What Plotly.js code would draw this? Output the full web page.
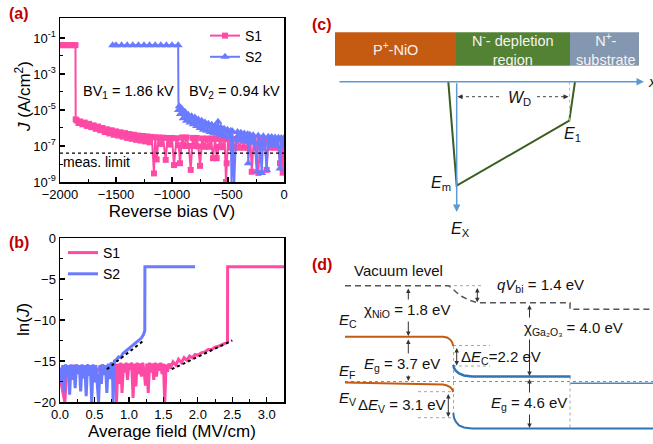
<!DOCTYPE html>
<html><head><meta charset="utf-8">
<script src="https://cdn.plot.ly/plotly-3.0.1.min.js"></script>
<style>html,body{margin:0;padding:0;background:#fff}#chart{width:653px;height:444px}</style>
</head><body><div id="chart"></div>
<script>
// ---------- Panel (a): J vs reverse bias ----------
const s1V = [-2000,-1975,-1950,-1925,-1900,-1880,-1862,-1860,-1850,-1835,
  -1820,-1800,-1780,-1760,-1740,-1720,-1700,-1680,-1660,-1640,
  -1620,-1600,-1580,-1560,-1540,-1520,-1500,-1480,-1460,-1440,
  -1420,-1400,-1380,-1360,-1340,-1320,-1300,-1280,-1260,-1240,
  -1220,-1200,-1180,-1161,-1150,-1137,-1120,-1100,-1080,-1056,
  -1040,-1020,-1000,-982,-960,-940,-929,-910,-890,-870,
  -850,-833,-815,-800,-780,-765,-750,-730,-710,-690,
  -670,-650,-634,-615,-601,-585,-570,-550,-530,-518,
  -512,-500,-480,-460,-440,-420,-400,-380,-360,-340,
  -320,-300,-288,-270,-250,-229,-210,-190,-170,-155,
  -140,-120,-100,-80,-60,-36,-25,-12,0];
const s1J = [0.04,0.04,0.04,0.04,0.04,0.04,0.04,3.0e-6,2.6e-6,1.9e-6,
  2.3e-6,1.6e-6,2.0e-6,1.3e-6,1.7e-6,1.1e-6,1.4e-6,9.0e-7,1.2e-6,7.5e-7,
  1.0e-6,6.0e-7,8.5e-7,5.0e-7,7.5e-7,4.2e-7,6.5e-7,3.8e-7,5.8e-7,3.3e-7,
  5.2e-7,2.8e-7,4.6e-7,2.5e-7,4.2e-7,2.2e-7,3.8e-7,2.0e-7,3.6e-7,1.8e-7,
  3.4e-7,1.6e-7,3.2e-7,3.0e-9,3.0e-7,1.8e-8,3.0e-7,1.3e-7,2.9e-7,1.7e-8,
  2.8e-7,1.2e-7,2.8e-7,8.7e-9,2.7e-7,1.1e-7,1.1e-8,3.0e-7,1.0e-7,3.0e-7,
  1.0e-7,4.7e-9,2.8e-7,1.0e-7,2.8e-7,9.5e-8,7.9e-9,2.6e-7,9.0e-8,2.6e-7,
  9.0e-8,2.5e-7,2.1e-8,2.5e-7,2.1e-8,9.0e-8,2.5e-7,8.5e-8,2.5e-7,1.0e-9,
  1.1e-8,2.4e-7,8.0e-8,2.4e-7,8.0e-8,2.4e-7,8.0e-8,2.4e-7,8.0e-8,2.4e-7,
  8.0e-8,2.4e-7,3.7e-9,2.4e-7,8.0e-8,3.2e-9,2.4e-7,8.0e-8,2.4e-7,4.7e-9,
  2.4e-7,8.0e-8,2.4e-7,8.0e-8,2.4e-7,1.1e-8,2.4e-7,3.3e-9,2.4e-7];
const s2V = [-1530,-1500,-1450,-1400,-1350,-1300,-1250,-1200,-1150,-1100,
  -1050,-1000,-945,-942,-935,-925,-915,-900,-885,-870,
  -855,-840,-825,-810,-795,-780,-765,-750,-735,-720,
  -705,-690,-675,-660,-645,-630,-615,-600,-589,-578,
  -565,-550,-535,-520,-505,-490,-475,-468,-460,-445,
  -430,-415,-400,-385,-370,-355,-340,-325,-319,-305,
  -290,-275,-260,-244,-230,-215,-199,-185,-170,-155,
  -140,-125,-110,-95,-80,-65,-50,-36,-25,-12,0];
const s2J = [0.04,0.04,0.04,0.04,0.04,0.04,0.04,0.04,0.04,0.04,
  0.04,0.04,0.04,1.0e-5,1.6e-5,6e-6,1.2e-5,3.5e-6,8e-6,2.5e-6,
  5.5e-6,2.0e-6,4.5e-6,1.6e-6,3.8e-6,1.3e-6,3.0e-6,1.0e-6,2.5e-6,8e-7,
  2.0e-6,7e-7,1.7e-6,6e-7,1.5e-6,5e-7,1.3e-6,5e-7,2.2e-6,4.5e-7,
  1.1e-6,4e-7,9e-7,3.5e-7,8e-7,3e-7,7e-7,3e-10,6.5e-7,6e-10,
  2.5e-7,6e-7,2.2e-7,5.5e-7,2e-7,5e-7,1.8e-7,4.5e-7,1.1e-8,4.2e-7,
  1.6e-7,4e-7,1.5e-7,3.7e-9,3.7e-7,1.4e-7,3.2e-9,3.5e-7,1.3e-7,4.7e-9,
  3.3e-7,1.2e-7,3.2e-7,1.1e-7,3.0e-7,1.0e-7,2.9e-7,5.6e-9,2.8e-7,9e-8,2.8e-7];
const limitV = [-2000, 0];
const limitJ = [4e-8, 4e-8];
const aTickVals = [1e-9,1e-7,1e-5,1e-3,1e-1];
const aTickText = ['10<sup>-9</sup>','10<sup>-7</sup>','10<sup>-5</sup>','10<sup>-3</sup>','10<sup>-1</sup>'];

// ---------- Panel (b): ln(J) vs average field ----------
const b1F = [0,0.04,0.07,0.10,0.2,0.3,0.4,0.5,0.6,0.7,
  0.78,0.80,0.82,0.84,0.86,0.88,0.90,0.92,0.94,0.96,
  0.98,1.00,1.02,1.04,1.06,1.08,1.10,1.12,1.14,1.16,
  1.18,1.20,1.22,1.24,1.26,1.28,1.30,1.32,1.34,1.36,
  1.38,1.40,1.42,1.44,1.46,1.48,1.50,1.52,1.54,1.56,
  1.58,1.60,1.64,1.68,1.72,1.76,1.80,1.84,1.88,1.92,
  1.96,2.00,2.05,2.10,2.15,2.20,2.25,2.30,2.35,2.40,
  2.43,2.432,2.8,3.25];
const b1L = [-17.0,-18.5,-20,-16.0,-15.6,-16.5,-15.6,-16.5,-15.6,-16.2,
  -15.6,-15.4,-20,-15.3,-17.8,-15.2,-18.9,-15.3,-16.4,-15.2,
  -17.3,-15.3,-16.1,-15.2,-19.5,-15.3,-18.1,-15.2,-16.6,-15.3,
  -16.9,-15.2,-16.2,-18.0,-15.3,-18.9,-15.2,-16.4,-15.3,-17.3,
  -15.2,-16.9,-15.3,-16.2,-15.2,-16.6,-15.3,-20,-15.4,-16.3,
  -15.3,-15.9,-15.1,-15.5,-14.8,-15.2,-14.6,-14.9,-14.4,-14.6,
  -14.2,-14.3,-14.0,-13.9,-13.6,-13.6,-13.3,-13.2,-13.0,-12.8,
  -12.7,-3.5,-3.5,-3.5];
const b2F = [0,0.02,0.04,0.06,0.08,0.10,0.12,0.14,0.16,0.18,
  0.20,0.22,0.24,0.26,0.28,0.30,0.32,0.34,0.36,0.38,
  0.40,0.42,0.44,0.46,0.48,0.50,0.52,0.54,0.56,0.58,
  0.60,0.62,0.64,0.66,0.68,0.70,0.72,0.74,0.76,0.77,
  0.79,0.82,0.85,0.88,0.91,0.94,0.97,1.00,1.03,1.06,
  1.09,1.12,1.15,1.18,1.21,1.23,1.232,1.5,1.96];
const b2L = [-15.8,-17.6,-15.5,-18.8,-15.4,-16.9,-15.5,-19.1,-15.4,-17.3,
  -15.5,-18.3,-15.4,-16.6,-15.5,-18.7,-15.4,-17.1,-15.5,-19.3,
  -15.4,-16.8,-15.5,-20,-15.4,-17.6,-15.5,-18.4,-20,-15.5,
  -17.8,-15.4,-16.7,-15.5,-18.9,-15.3,-17.2,-15.2,-15.4,-20,
  -15.0,-14.8,-14.5,-14.6,-14.1,-13.9,-13.7,-13.4,-13.3,-13.0,
  -12.9,-12.6,-12.4,-12.2,-11.8,-11.3,-3.5,-3.5,-3.5];
const fit1F = [1.62, 2.50], fit1L = [-16.0, -12.5];
const fit2F = [0.68, 1.20], fit2L = [-16.0, -12.6];

// ---------- Panel (c): field schematic (diagram units) ----------
const cBoxX0 = [335, 456, 570], cBoxX1 = [456, 570, 639];
const cBoxColor = ['#c55a11', '#548235', '#8497b0'];
const cBoxLabel = ['P<sup>+</sup>-NiO', 'N<sup>-</sup>- depletion<br>region', 'N<sup>+</sup>-<br>substrate'];
const cBoxLabelX = [395.5, 513, 606];
const fieldX = [448.3, 456.7, 569.3, 575];
const fieldY = [81.7, 185.7, 120.7, 81.7];
const wdX = [460, 500, null, 537, 566];
const wdY = [96.7, 96.7, null, 96.7, 96.7];

// ---------- Panel (d): band diagram (diagram units) ----------
const vacX = [345, 448.3, 452, 456, 462, 470, 478, 570, 570, 653];
const vacY = [285.7, 285.7, 288, 292, 296.5, 300.5, 302.7, 302.7, 309.3, 309.3];
const ecNiOX = [345, 443, 447, 450, 452, 453.3];
const ecNiOY = [336.7, 336.7, 337.5, 339.5, 342, 346];
const evNiOX = [345, 443, 447, 450, 452, 453.3];
const evNiOY = [382.5, 384.5, 385.5, 387, 389, 392];
const efX = [345, 653], efY = [381.5, 381.5];
const ecGaX = [453.3, 454, 456, 459, 464, 472, 570.5];
const ecGaY = [365, 368, 371, 373.5, 375.5, 376.5, 376.5];
const ecSubX = [570.5, 653], ecSubY = [383.3, 383.3];
const evGaX = [453.3, 454, 456, 459, 464, 472, 653];
const evGaY = [413, 418, 422, 425.5, 427.5, 428.5, 428.5];
const guideX = [453, 490, null, 453, 490, null, 418, 454, null, 418, 454, null, 448, 484, null, 453.5, 453.5, null, 570, 570];
const guideY = [345.5, 345.5, null, 366, 366, null, 391.7, 391.7, null, 417.7, 417.7, null, 285.7, 285.7, null, 346, 416, null, 376.5, 428.5];

const PINK = '#ff4aa5', BLUE = '#6a7bff';
const F = '"Liberation Sans", Arial, sans-serif';

const traces = [
  {name:'S1', x:s1V, y:s1J, xaxis:'x', yaxis:'y', mode:'lines+markers', legend:'legend', legendrank:1,
   line:{color:PINK, width:2}, marker:{symbol:'square', size:6, color:PINK}},
  {name:'S2', x:s2V, y:s2J, xaxis:'x', yaxis:'y', mode:'lines+markers', legend:'legend', legendrank:2,
   line:{color:BLUE, width:2}, marker:{symbol:'triangle-up', size:8, color:BLUE}},
  {x:limitV, y:limitJ, xaxis:'x', yaxis:'y', mode:'lines', showlegend:false,
   line:{color:'#000', width:1.3, dash:'dot'}},
  {name:'S1', x:b1F, y:b1L, xaxis:'x2', yaxis:'y2', mode:'lines', legend:'legend2', legendrank:1,
   line:{color:PINK, width:3}},
  {name:'S2', x:b2F, y:b2L, xaxis:'x2', yaxis:'y2', mode:'lines', legend:'legend2', legendrank:2,
   line:{color:BLUE, width:3}},
  {x:fit1F, y:fit1L, xaxis:'x2', yaxis:'y2', mode:'lines', showlegend:false, line:{color:'#000', width:2, dash:'dot'}},
  {x:fit2F, y:fit2L, xaxis:'x2', yaxis:'y2', mode:'lines', showlegend:false, line:{color:'#000', width:2, dash:'dot'}},
  // (c)
  {x:fieldX, y:fieldY, xaxis:'x3', yaxis:'y3', mode:'lines', showlegend:false, line:{color:'#3b5f21', width:2}},
  {x:wdX, y:wdY, xaxis:'x3', yaxis:'y3', mode:'lines', showlegend:false, line:{color:'#444', width:1, dash:'dot'}},
  {x:[569.5,569.5], y:[81.7,120.7], xaxis:'x3', yaxis:'y3', mode:'lines', showlegend:false, line:{color:'#9dc3e6', width:1, dash:'dot'}},
  // (d)
  {x:guideX, y:guideY, xaxis:'x3', yaxis:'y3', mode:'lines', showlegend:false, line:{color:'#a6a6a6', width:1, dash:'dot'}},
  {x:vacX, y:vacY, xaxis:'x3', yaxis:'y3', mode:'lines', showlegend:false, line:{color:'#555', width:1.5, dash:'6px,4px'}},
  {x:efX, y:efY, xaxis:'x3', yaxis:'y3', mode:'lines', showlegend:false, line:{color:'#ff5b5b', width:1, dash:'dot'}},
  {x:ecNiOX, y:ecNiOY, xaxis:'x3', yaxis:'y3', mode:'lines', showlegend:false, line:{color:'#c55a11', width:2}},
  {x:evNiOX, y:evNiOY, xaxis:'x3', yaxis:'y3', mode:'lines', showlegend:false, line:{color:'#c55a11', width:2}},
  {x:ecGaX, y:ecGaY, xaxis:'x3', yaxis:'y3', mode:'lines', showlegend:false, line:{color:'#2e75b6', width:2.5}},
  {x:ecSubX, y:ecSubY, xaxis:'x3', yaxis:'y3', mode:'lines', showlegend:false, line:{color:'#4a86c5', width:1.5}},
  {x:evGaX, y:evGaY, xaxis:'x3', yaxis:'y3', mode:'lines', showlegend:false, line:{color:'#2e75b6', width:2}}
];

const axBase = {showline:true, linecolor:'#000', linewidth:1.5, mirror:true, ticks:'inside', ticklen:5,
  tickwidth:1.2, tickcolor:'#000', tickfont:{family:F, size:13, color:'#000'}, showgrid:false,
  zeroline:false, automargin:false, fixedrange:true};
const minorBase = {ticks:'inside', ticklen:3, tickwidth:1, tickcolor:'#000', showgrid:false};

const shapes = cBoxX0.map((x0, i) => ({type:'rect', xref:'x3', yref:'y3', x0:x0, x1:cBoxX1[i], y0:32.3, y1:65.7,
  fillcolor:cBoxColor[i], line:{width:0}, layer:'below'}));

function arrow(x, y, ax, ay, opts) {
  return Object.assign({xref:'x3', yref:'y3', axref:'x3', ayref:'y3', x:x, y:y, ax:ax, ay:ay, text:'',
    showarrow:true, arrowhead:2, arrowsize:1, arrowwidth:1, arrowcolor:'#333', standoff:0, startstandoff:0}, opts || {});
}
function dbl(x, y0, y1) { return arrow(x, y1, x, y0, {arrowside:'end+start', arrowsize:0.9}); }
function txt(x, y, text, opts) {
  return Object.assign({xref:'x3', yref:'y3', x:x, y:y, text:text, showarrow:false, xanchor:'left', yanchor:'middle',
    font:{family:F, size:15, color:'#111'}}, opts || {});
}
function paperTxt(px, py, t, font, extra) {
  return Object.assign({xref:'paper', yref:'paper', x:px/653, y:1-py/444, text:t, showarrow:false,
    xanchor:'center', yanchor:'middle', font:font}, extra || {});
}
const labelFont = {family:F, size:16, color:'#c00000'};
const titleFont = {family:F, size:17, color:'#000'};

const annotations = [
  paperTxt(19, 13, '<b>(a)</b>', labelFont), paperTxt(19, 242, '<b>(b)</b>', labelFont),
  paperTxt(322, 25, '<b>(c)</b>', labelFont), paperTxt(322, 264, '<b>(d)</b>', labelFont),
  paperTxt(23, 97, '<i>J</i> (A/cm<sup>2</sup>)', titleFont, {textangle:-90}),
  paperTxt(23, 320, 'ln(<i>J</i>)', titleFont, {textangle:-90}),
  {xref:'x', yref:'y', x:-1990, y:Math.log10(1.3e-8), text:'meas. limit', showarrow:false, xanchor:'left', yanchor:'middle',
   font:{family:F, size:14, color:'#000'}},
  {xref:'x', yref:'y', x:-1390, y:Math.log10(1e-4), text:'BV<sub>1</sub> = 1.86 kV', showarrow:false,
   xanchor:'center', yanchor:'middle', font:{family:F, size:14.5, color:'#000'}},
  {xref:'x', yref:'y', x:-440, y:Math.log10(1e-4), text:'BV<sub>2</sub> = 0.94 kV', showarrow:false,
   xanchor:'center', yanchor:'middle', font:{family:F, size:14.5, color:'#000'}},
  // (c)
  arrow(644, 81.7, 338, 81.7, {arrowcolor:'#5b9bd5', arrowwidth:1.5, arrowsize:1}),
  arrow(456.7, 212, 456.7, 81.7, {arrowcolor:'#5b9bd5', arrowwidth:1.5, arrowsize:1}),
  arrow(457.5, 96.7, 464, 96.7, {arrowsize:1}),
  arrow(568.5, 96.7, 562, 96.7, {arrowsize:1}),
  txt(519, 98, '<i>W</i><sub>D</sub>', {xanchor:'center', font:{family:F, size:16, color:'#111'}}),
  txt(453, 183, '<i>E</i><sub>m</sub>', {xanchor:'right', font:{family:F, size:16, color:'#111'}}),
  txt(572, 134, '<i>E</i><sub>1</sub>', {xanchor:'center', font:{family:F, size:16, color:'#111'}}),
  txt(460, 229, '<i>E</i><sub>X</sub>', {xanchor:'center', font:{family:F, size:16, color:'#111'}}),
  txt(646, 81, '<i>x</i>', {font:{family:F, size:15, color:'#111'}}),
  // (d) arrows
  dbl(408.3, 287, 336), dbl(408.3, 338, 381),
  dbl(456.7, 346.5, 365.5), dbl(448.3, 392.5, 417),
  dbl(477.3, 286.5, 302.2), dbl(529.5, 303.5, 376), dbl(529.5, 377.5, 428),
  // (d) texts
  txt(351.7, 270, 'Vacuum level'),
  txt(495, 285, '<i>qV</i><sub>bi</sub> = 1.4 eV'),
  txt(337, 320, '<i>E</i><sub>C</sub>'),
  txt(362, 310, 'χ<sub>NiO</sub> = 1.8 eV', {bgcolor:'#fff'}),
  txt(337, 371, '<i>E</i><sub>F</sub>'),
  txt(362, 364, '<i>E</i><sub>g</sub> = 3.7 eV', {bgcolor:'#fff'}),
  txt(337, 398, '<i>E</i><sub>V</sub>'),
  txt(356, 405, 'Δ<i>E</i><sub>V</sub> = 3.1 eV'),
  txt(459, 357, 'Δ<i>E</i><sub>C</sub>=2.2 eV'),
  txt(522, 328, 'χ<sub>Ga₂O₃</sub> = 4.0 eV', {bgcolor:'#fff'}),
  txt(489, 403, '<i>E</i><sub>g</sub> = 4.6 eV', {bgcolor:'#fff'})
];
cBoxLabel.forEach((t, i) => annotations.push(txt(cBoxLabelX[i], 49, t,
  {xanchor:'center', font:{family:F, size:14.5, color:'#f4f4f4'}})));

const layout = {
  width:653, height:444, margin:{l:0, r:0, t:0, b:0},
  paper_bgcolor:'#fff', plot_bgcolor:'rgba(0,0,0,0)',
  font:{family:F, color:'#000'},
  xaxis: Object.assign({}, axBase, {domain:[60/653, 284/653], anchor:'y', range:[-2000, 0],
    tickmode:'array', tickvals:[-2000,-1500,-1000,-500,0],
    minor:Object.assign({}, minorBase, {tickmode:'array', tickvals:[-1750,-1250,-750,-250]}),
    title:{text:'Reverse bias (V)', font:titleFont, standoff:4}}),
  yaxis: Object.assign({}, axBase, {domain:[1-182/444, 1-18/444], anchor:'x', type:'log', range:[-9, 0.11],
    tickmode:'array', tickvals:aTickVals, ticktext:aTickText,
    minor:Object.assign({}, minorBase, {tickmode:'array', tickvals:[1e-8,1e-6,1e-4,1e-2]})}),
  xaxis2: Object.assign({}, axBase, {domain:[60/653, 284/653], anchor:'y2', range:[0, 3.25],
    tickmode:'array', tickvals:[0,0.5,1,1.5,2,2.5,3], ticktext:['0.0','0.5','1.0','1.5','2.0','2.5','3.0'],
    minor:Object.assign({}, minorBase, {tickmode:'array', tickvals:[0.25,0.75,1.25,1.75,2.25,2.75,3.25]}),
    title:{text:'Average field (MV/cm)', font:titleFont, standoff:4}}),
  yaxis2: Object.assign({}, axBase, {domain:[1-402/444, 1-238/444], anchor:'x2', range:[-20, 0],
    tickmode:'array', tickvals:[-20,-15,-10,-5,0],
    minor:Object.assign({}, minorBase, {tickmode:'array', tickvals:[-17.5,-12.5,-7.5,-2.5]})}),
  xaxis3: {domain:[320/653, 1], anchor:'y3', range:[320, 653], visible:false, fixedrange:true},
  yaxis3: {domain:[0, 1], anchor:'x3', range:[444, 0], visible:false, fixedrange:true},
  showlegend:true,
  legend: {x:205/653, y:1-20/444, xanchor:'left', yanchor:'top', bgcolor:'rgba(0,0,0,0)',
    font:{family:F, size:14, color:'#000'}, tracegroupgap:0, itemwidth:30, traceorder:'normal'},
  legend2: {x:63/653, y:1-237/444, xanchor:'left', yanchor:'top', bgcolor:'rgba(0,0,0,0)',
    font:{family:F, size:14, color:'#000'}, tracegroupgap:0, itemwidth:30, traceorder:'normal'},
  shapes: shapes,
  annotations: annotations
};

Plotly.newPlot('chart', traces, layout, {staticPlot:true, displayModeBar:false});
</script>
</body></html>
